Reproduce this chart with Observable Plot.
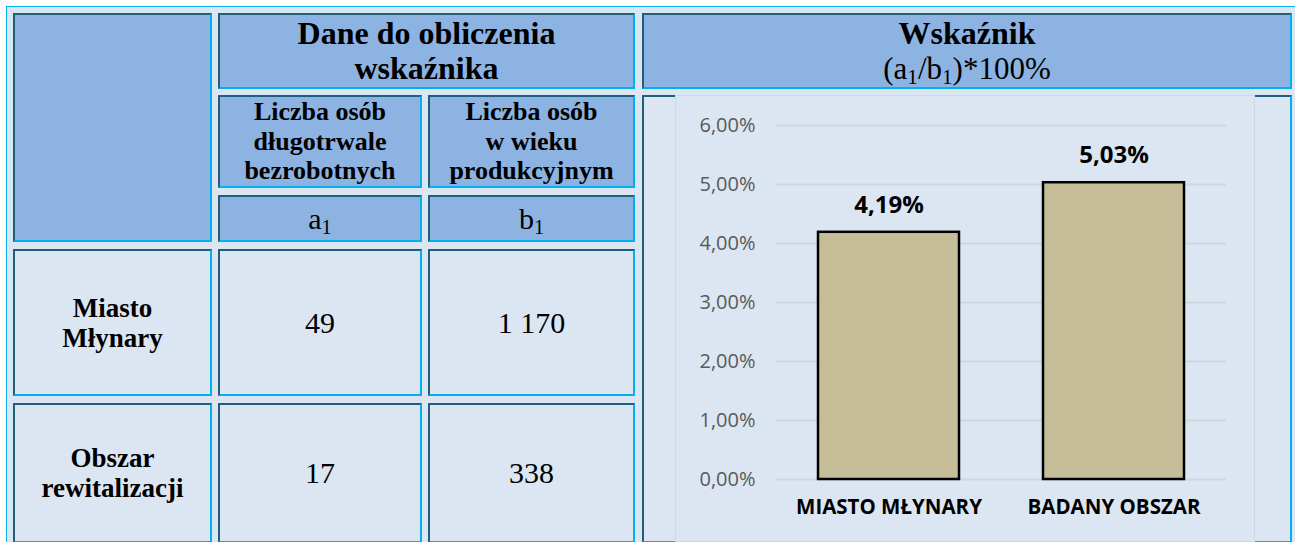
<!DOCTYPE html>
<html>
<head>
<meta charset="utf-8">
<script src="https://cdn.jsdelivr.net/npm/d3@7"></script>
<script src="https://cdn.jsdelivr.net/npm/@observablehq/plot@0.6"></script>
<style>
  html, body { margin: 0; padding: 0; background: #ffffff; width: 1295px; height: 542px; overflow: hidden; }
  #page { position: relative; width: 1295px; height: 542px; }
  #outer { position: absolute; left: 6px; top: 6px; width: 1300px; height: 560px; background: #dce6f2;
           border-left: 1px solid #00b0f0; border-top: 1px solid #00b0f0; }
  .cell { position: absolute; box-sizing: border-box; display: flex; align-items: center; justify-content: center;
          text-align: center; font-family: "Liberation Serif", "Times New Roman", serif; color: #000;
          border-top: 2px solid #1f5f7c; border-left: 2px solid #1f5f7c;
          border-right: 2px solid #00b0f0; border-bottom: 2px solid #00b0f0; }
  .hdr { background: #8db3e2; }
  .body { background: #dce6f2; }
  .b { font-weight: bold; }
  sub { font-size: 0.68em; vertical-align: -0.25em; line-height: 0; }
  #chartbox { position: absolute; left: 675px; top: 95px; width: 578px; height: 445px;
              border: 1px solid #d3d8de; background: #dce6f2; }
  #chartbox svg { display: block; }
</style>
</head>
<body>
<div id="page">
  <div id="outer"></div>
</div>
<script>
// ---- data ----
const rowLabels = ["Miasto Młynary", "Obszar rewitalizacji"];
const a1Values = [49, 17];
const b1Values = [1170, 338];
const chartCategories = ["MIASTO MŁYNARY", "BADANY OBSZAR"];
const chartValues = [4.19, 5.03];
const yTicks = [0, 1, 2, 3, 4, 5, 6];

const pl = d3.formatLocale({decimal: ",", thousands: "\u00a0", grouping: [3], currency: ["", " zł"]});
const fmtInt = pl.format(",d");
const fmtPct = v => pl.format(".2f")(v) + "%";

const page = document.getElementById("page");
function cell(x0, y0, x1, y1, cls, html, style) {
  const d = document.createElement("div");
  d.className = "cell " + cls;
  d.style.left = x0 + "px"; d.style.top = y0 + "px";
  d.style.width = (x1 - x0) + "px"; d.style.height = (y1 - y0) + "px";
  d.innerHTML = "<div style='" + (style || "") + "'>" + html + "</div>";
  page.appendChild(d);
  return d;
}

// header
cell(13, 13, 212, 242, "hdr", "");
cell(218, 13, 635, 89, "hdr b", "Dane do obliczenia<br>wskaźnika", "font-size:32px;line-height:35px;");
cell(642, 13, 1292, 89, "hdr", "<span class='b' style='font-size:32px'>Wskaźnik</span><br>(a<sub>1</sub>/b<sub>1</sub>)*100%", "font-size:31px;line-height:35px;");
cell(218, 95, 422, 188, "hdr b", "Liczba osób<br>długotrwale<br>bezrobotnych", "font-size:26px;line-height:29.5px;");
cell(428, 95, 635, 188, "hdr b", "Liczba osób<br>w wieku<br>produkcyjnym", "font-size:26px;line-height:29.5px;");
cell(218, 195, 422, 242, "hdr", "a<sub>1</sub>", "font-size:30px;line-height:30px;");
cell(428, 195, 635, 242, "hdr", "b<sub>1</sub>", "font-size:30px;line-height:30px;");

// body rows
const rowTops = [[249, 396], [403, 543]];
rowLabels.forEach((lab, i) => {
  const [t, b] = rowTops[i];
  cell(13, t, 212, b, "body b", lab.replace(" ", "<br>"), "font-size:27px;line-height:30px;");
  cell(218, t, 422, b, "body", fmtInt(a1Values[i]), "font-size:30px;");
  cell(428, t, 635, b, "body", fmtInt(b1Values[i]), "font-size:30px;");
});
// chart cell
cell(642, 95, 1292, 543, "body", "");

// ---- chart ----
const data = chartCategories.map((c, i) => ({cat: chartCategories[i], val: chartValues[i]}));
const chart = Plot.plot({
  width: 578,
  height: 446,
  marginLeft: 100,
  marginRight: 28,
  marginTop: 29,
  marginBottom: 63,
  style: {fontFamily: "'Open Sans', sans-serif", background: "transparent", overflow: "visible"},
  x: {domain: chartCategories, paddingInner: 0.373, paddingOuter: 0.1865, label: null},
  y: {domain: [0, 6], label: null},
  marks: [
    Plot.ruleY(yTicks, {stroke: "#d2d6db", strokeWidth: 2}),
    Plot.barY(data, {x: "cat", y: "val", fill: "#c4bd97", stroke: "#000", strokeWidth: 2.5}),
    Plot.text(data, {x: "cat", y: "val", text: d => fmtPct(d.val), dy: -27, fontSize: 24, fontWeight: "bold", fill: "#000"}),
    Plot.axisY({ticks: yTicks, tickSize: 0, tickPadding: 21, tickFormat: d => fmtPct(d), fontSize: 20, fill: "#595959", label: null}),
    Plot.axisX({tickSize: 0, tickPadding: 20, fontSize: 20.5, fontWeight: "bold", fill: "#000", label: null})
  ]
});
const box = document.createElement("div");
box.id = "chartbox";
box.appendChild(chart);
page.appendChild(box);
</script>
</body>
</html>
